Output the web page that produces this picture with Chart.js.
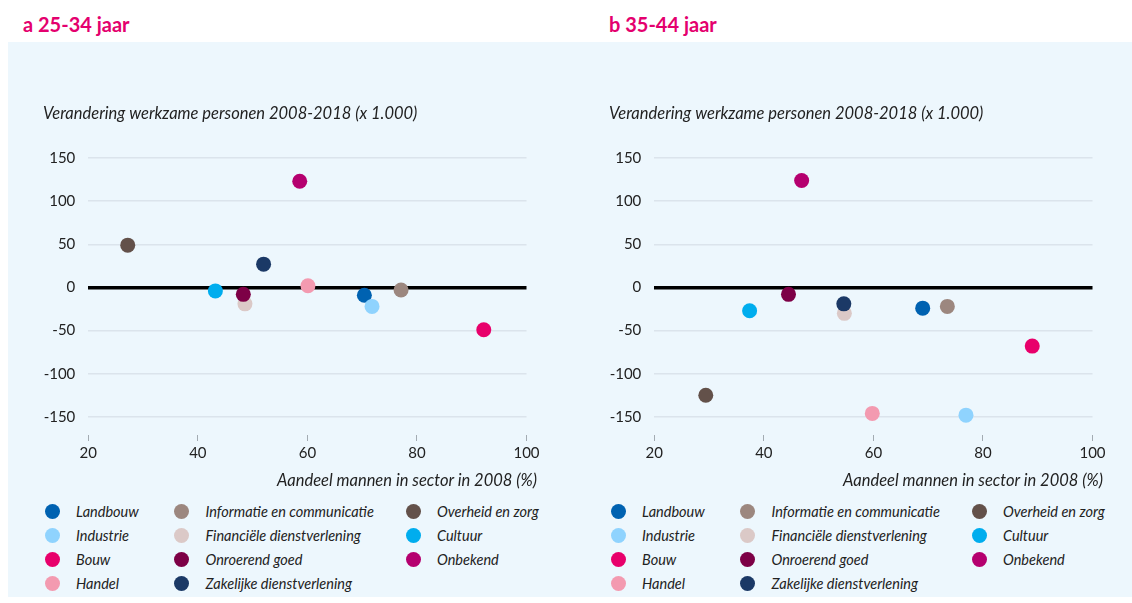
<!DOCTYPE html>
<html lang="nl">
<head>
<meta charset="utf-8">
<script src="https://cdn.jsdelivr.net/npm/chart.js@4/dist/chart.umd.min.js"></script>
<style>
  html, body { margin: 0; padding: 0; background: #fff; }
  body { width: 1132px; height: 603px; position: relative; overflow: hidden; font-family: 'Lato', 'Open Sans', sans-serif; color: #222; }
  .panel { position: absolute; left: 8px; top: 42px; width: 1124px; height: 555px; background: #edf7fd; }
  .kop { position: absolute; top: 12px; font-size: 20px; line-height: 24px; font-weight: bold; color: #e4006e; }
  canvas { position: absolute; top: 42px; }
  .xtitel { position: absolute; top: 470px; font-size: 16.5px; line-height: 20px; font-style: italic; text-align: right; }
  .legenda { position: absolute; top: 499px; display: grid; grid-auto-flow: column; grid-template-rows: repeat(4, 24px); grid-template-columns: 129.5px 231.5px auto; }
  .item { display: flex; align-items: center; font-size: 14.5px; font-style: italic; white-space: nowrap; }
  .stip { width: 15px; height: 15px; border-radius: 50%; margin-right: 16.5px; flex: none; }
</style>
</head>
<body>
<div class="panel"></div>
<div class="kop" style="left:23px">a 25-34 jaar</div>
<div class="kop" style="left:609px">b 35-44 jaar</div>
<canvas id="chartA" width="558" height="433" style="left:8px"></canvas>
<canvas id="chartB" width="558" height="433" style="left:574px"></canvas>
<div class="xtitel" style="left:0; width:537px">Aandeel mannen in sector in 2008 (%)</div>
<div class="xtitel" style="left:0; width:1103px">Aandeel mannen in sector in 2008 (%)</div>
<div class="legenda" id="legendaA" style="left:44.5px"></div>
<div class="legenda" id="legendaB" style="left:610.5px"></div>
<script>
// sectoren en kleuren
const sectors = ['Landbouw', 'Industrie', 'Bouw', 'Handel', 'Informatie en communicatie',
    'Financiële dienstverlening', 'Onroerend goed', 'Zakelijke dienstverlening',
    'Overheid en zorg', 'Cultuur', 'Onbekend'];
const sectorColors = ['#0062b1', '#8fd3fe', '#e8006b', '#f39ab0', '#9c877f',
    '#dbc9c7', '#7d0046', '#1b3966', '#63514a', '#00adee', '#b5006f'];

// a: 25-34 jaar
const aandeelA = [70.4, 71.8, 92.2, 60.1, 77.1, 48.6, 48.3, 52.0, 27.2, 43.2, 58.6];
const veranderingA = [-9, -22, -49, 2, -3, -19, -8, 27, 49, -4, 123];

// b: 35-44 jaar
const aandeelB = [69.0, 76.9, 89.0, 59.8, 73.5, 54.7, 44.5, 54.6, 29.4, 37.4, 46.9];
const veranderingB = [-24, -148, -68, -146, -22, -30, -8, -19, -125, -27, 124];

const xTicks = [20, 40, 60, 80, 100];
const yTicks = [-150, -100, -50, 0, 50, 100, 150];
const yTitle = 'Verandering werkzame personen 2008-2018 (x 1.000)';

const fontFamily = "'Lato', 'Open Sans', sans-serif";

function makeChart(canvasId, xs, ys) {
    const points = xs.map((x, i) => ({ x: x, y: ys[i] }));
    return new Chart(document.getElementById(canvasId), {
        type: 'scatter',
        data: {
            datasets: [{
                data: points,
                backgroundColor: sectorColors,
                borderColor: sectorColors,
                borderWidth: 0,
                pointRadius: 7.5,
                pointHoverRadius: 7.5,
                clip: false
            }]
        },
        options: {
            responsive: false,
            animation: false,
            events: [],
            layout: { padding: { left: 35, right: 39.5, top: 0, bottom: 0 } },
            plugins: {
                legend: { display: false },
                tooltip: { enabled: false },
                title: {
                    display: true,
                    text: yTitle,
                    align: 'start',
                    color: '#222',
                    font: { family: fontFamily, size: 16.5, style: 'italic', weight: 'normal', lineHeight: 1.2 },
                    padding: { top: 62, bottom: 34.2 }
                }
            },
            scales: {
                x: {
                    type: 'linear',
                    min: 20,
                    max: 100,
                    afterBuildTicks: scale => { scale.ticks = xTicks.map(v => ({ value: v })); },
                    afterFit: scale => { scale.height = 40; },
                    grid: { drawOnChartArea: false, drawTicks: true, tickLength: 6, color: '#a3abb2', lineWidth: 1 },
                    border: { display: false },
                    ticks: { padding: 3, color: '#222', font: { family: fontFamily, size: 15 } }
                },
                y: {
                    type: 'linear',
                    min: -171,
                    max: 150,
                    afterBuildTicks: scale => { scale.ticks = yTicks.map(v => ({ value: v })); },
                    afterFit: scale => { scale.width = 45.3; },
                    grid: {
                        drawTicks: false,
                        color: ctx => ctx.tick && ctx.tick.value === 0 ? '#000' : '#dbe4ec',
                        lineWidth: ctx => ctx.tick && ctx.tick.value === 0 ? 3.5 : 1.5
                    },
                    border: { display: false },
                    ticks: { padding: 13, color: '#222', font: { family: fontFamily, size: 15 } }
                }
            }
        }
    });
}

function makeLegend(elId) {
    const el = document.getElementById(elId);
    sectors.forEach((name, i) => {
        const item = document.createElement('div');
        item.className = 'item';
        const stip = document.createElement('span');
        stip.className = 'stip';
        stip.style.background = sectorColors[i];
        item.appendChild(stip);
        item.appendChild(document.createTextNode(name));
        el.appendChild(item);
    });
}

makeChart('chartA', aandeelA, veranderingA);
makeChart('chartB', aandeelB, veranderingB);
makeLegend('legendaA');
makeLegend('legendaB');
</script>
</body>
</html>
